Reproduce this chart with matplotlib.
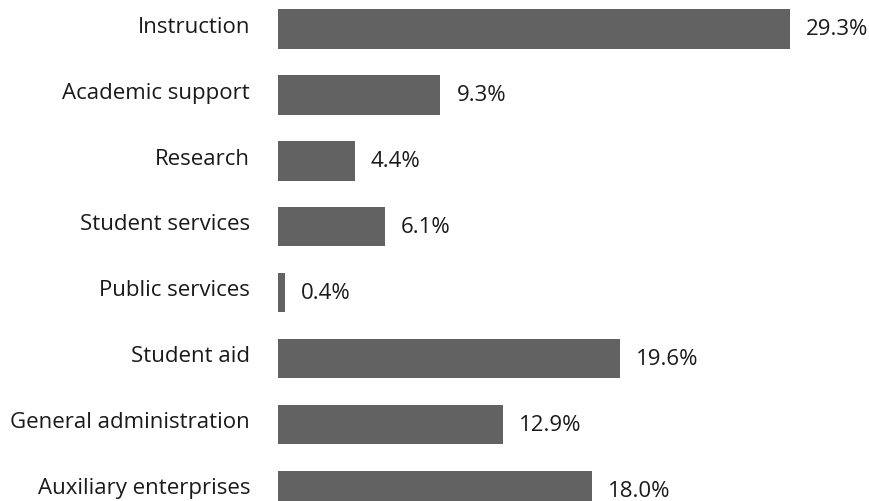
import matplotlib
matplotlib.use("Agg")
import matplotlib.pyplot as plt

categories = ["Instruction", "Academic support", "Research", "Student services",
              "Public services", "Student aid", "General administration",
              "Auxiliary enterprises"]
values = [29.3, 9.3, 4.4, 6.1, 0.4, 19.6, 12.9, 18.0]
value_labels = ["29.3%", "9.3%", "4.4%", "6.1%", "0.4%", "19.6%", "12.9%", "18.0%"]

plt.rcParams['font.family'] = ['Open Sans', 'DejaVu Sans']

fig = plt.figure(figsize=(8.7, 5.02), dpi=100)
W, H = 870, 502
left_px = 278
ax = fig.add_axes([left_px / W, 0, 1 - left_px / W, 1])

pos = list(range(len(categories)))
ax.barh(pos, values, height=0.6, color="#626262")

px_per_unit = 17.47
ax.set_xlim(0, (W - left_px) / px_per_unit)
spacing = 65.9
top = 30 / spacing
bottom = (H - 30) / spacing
ax.set_ylim(bottom, -top)

fs = 16
for p, v, lab in zip(pos, values, value_labels):
    ax.annotate(lab, xy=(v, p), xytext=(11.5, 0), textcoords="offset points",
                va="center", ha="left", fontsize=fs, color="#1a1a1a",
                annotation_clip=False)
    ax.annotate(categories[p], xy=(0, p), xytext=(-20, 2), textcoords="offset points",
                va="center", ha="right", fontsize=fs, color="#1a1a1a",
                annotation_clip=False)

ax.set_xticks([])
ax.set_yticks([])
for s in ax.spines.values():
    s.set_visible(False)
ax.patch.set_alpha(0)

fig.savefig("out.png", dpi=100)
